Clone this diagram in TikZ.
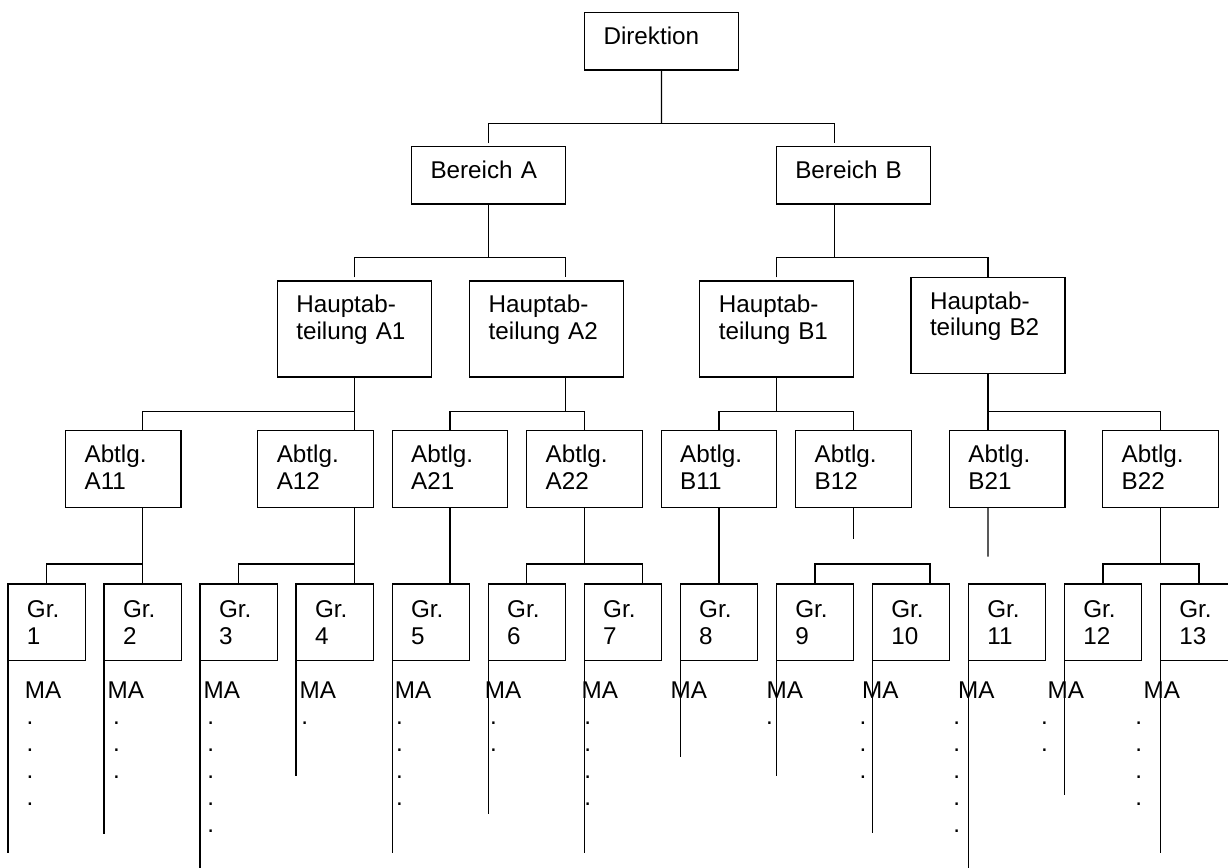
\documentclass[tikz,border=0pt]{standalone}
\usepackage{fontspec}
\setmainfont{Liberation Sans}
\usetikzlibrary{positioning}
\tikzset{
  orgbox/.style={draw, anchor=north west, outer sep=0pt, inner xsep=0.38cm, inner ysep=0pt,
                 align=left, text height=0.64cm, font=\fontsize{13.8pt}{15.2pt}\selectfont},
  topbox/.style={orgbox, text width=2.32cm, text depth=0.506cm},
  hauptbox/.style={orgbox, text width=2.32cm, text depth=1.28cm},
  abtbox/.style={orgbox, text width=1.55cm, text depth=0.892cm},
  grbox/.style={orgbox, text width=0.788cm, text height=0.67cm, text depth=0.864cm},
  staff/.style={anchor=base west, inner sep=0pt, font=\fontsize{13.8pt}{15.3pt}\selectfont},
  dotcol/.style={staff, align=left, text width=0.2cm},
  gap/.style={shorten <=0.07cm},
  gaps/.style={shorten <=0.07cm, shorten >=0.07cm},
}
\begin{document}
\begin{tikzpicture}[x=0.02cm, y=-0.02cm, line width=0.7pt]
  \useasboundingbox (0,0) rectangle (1228,868);

  \node[topbox] (dir) at (584.5,12.7) {Direktion};
  \node[topbox] (berA) at (411.5,146.7) {Bereich A};
  \node[topbox] (berB) at (776.3,146.7) {Bereich B};

  \node[hauptbox] (hA1) at (277.3,281) {Hauptab-\\teilung A1};
  \node[hauptbox] (hA2) at (469.7,281) {Hauptab-\\teilung A2};
  \node[hauptbox] (hB1) at (699.8,281) {Hauptab-\\teilung B1};
  \node[hauptbox] (hB2) at (911,277.3) {Hauptab-\\teilung B2};

  \node[abtbox] (aA11) at (65.6,430.7) {Abtlg.\\A11};
  \node[abtbox] (aA12) at (257.8,430.7) {Abtlg.\\A12};
  \node[abtbox] (aA21) at (392.2,430.7) {Abtlg.\\A21};
  \node[abtbox] (aA22) at (526.7,430.7) {Abtlg.\\A22};
  \node[abtbox] (aB11) at (661.2,430.7) {Abtlg.\\B11};
  \node[abtbox] (aB12) at (795.7,430.7) {Abtlg.\\B12};
  \node[abtbox] (aB21) at (949.4,430.7) {Abtlg.\\B21};
  \node[abtbox] (aB22) at (1102.7,430.7) {Abtlg.\\B22};

  % Gruppen, gleich breit nebeneinander
  \node[grbox] (gr1) at (8,584) {Gr.\\1};
  \node[grbox, right=0.373cm of gr1] (gr2) {Gr.\\2};
  \node[grbox, right=0.373cm of gr2] (gr3) {Gr.\\3};
  \node[grbox, right=0.373cm of gr3] (gr4) {Gr.\\4};
  \node[grbox, right=0.373cm of gr4] (gr5) {Gr.\\5};
  \node[grbox, right=0.373cm of gr5] (gr6) {Gr.\\6};
  \node[grbox, right=0.373cm of gr6] (gr7) {Gr.\\7};
  \node[grbox, right=0.373cm of gr7] (gr8) {Gr.\\8};
  \node[grbox, right=0.373cm of gr8] (gr9) {Gr.\\9};
  \node[grbox, right=0.373cm of gr9] (gr10) {Gr.\\10};
  \node[grbox, right=0.373cm of gr10] (gr11) {Gr.\\11};
  \node[grbox, right=0.373cm of gr11] (gr12) {Gr.\\12};
  \node[grbox, right=0.373cm of gr12] (gr13) {Gr.\\13};

  % Mitarbeiter
  \node[staff] (ma1) at (24.3,698.3) {MA};
  \node[staff] (ma2) at (107,698.3) {MA};
  \node[staff] (ma3) at (203,698.3) {MA};
  \node[staff] (ma4) at (299,698.3) {MA};
  \node[staff] (ma5) at (394.3,698.3) {MA};
  \node[staff] (ma6) at (484.3,698.3) {MA};
  \node[staff] (ma7) at (581,698.3) {MA};
  \node[staff] (ma8) at (670,698.3) {MA};
  \node[staff] (ma9) at (766,698.3) {MA};
  \node[staff] (ma10) at (861.6,698.3) {MA};
  \node[staff] (ma11) at (957.6,698.3) {MA};
  \node[staff] (ma12) at (1047,698.3) {MA};
  \node[staff] (ma13) at (1143,698.3) {MA};

  \node[dotcol] (dt1) at (26.1,724.7) {.\\.\\.\\.};
  \node[dotcol] (dt2) at (112.5,724.7) {.\\.\\.};
  \node[dotcol] (dt3) at (206.8,724.7) {.\\.\\.\\.\\.};
  \node[dotcol] (dt4) at (300.8,724.7) {.};
  \node[dotcol] (dt5) at (395.5,724.7) {.\\.\\.\\.};
  \node[dotcol] (dt6) at (489.5,724.7) {.\\.};
  \node[dotcol] (dt7) at (583.8,724.7) {.\\.\\.\\.};
  \node[dotcol] (dt9) at (765.5,724.7) {.};
  \node[dotcol] (dt10) at (859.1,724.7) {.\\.\\.};
  \node[dotcol] (dt11) at (952.8,724.7) {.\\.\\.\\.\\.};
  \node[dotcol] (dt12) at (1040.5,724.7) {.\\.};
  \node[dotcol] (dt13) at (1134.8,724.7) {.\\.\\.\\.};

  % Direktion -> Bereiche
  \coordinate (jD) at (661.5,123.3);
  \coordinate (jB) at (834.5,123.3);
  \draw (dir.south) -- (jD);
  \draw[gaps] (berA.north) -- (berA.north |- jD) -- (jB) -- (jB |- berB.north);

  % Bereiche -> Hauptabteilungen
  \coordinate (kA) at (565.3,257.3);
  \draw (berA.south) -- (berA.south |- kA);
  \draw[gaps] (hA1.north) -- (hA1.north |- kA) -- (kA) -- (kA |- hA2.north);
  \draw (jB |- berB.south) -- (jB |- kA);
  \draw[gap] (hB1.north) -- (hB1.north |- kA) -- (hB2.north |- kA) -- (hB2.north);

  % Hauptabteilungen -> Abteilungen
  \coordinate (kA1) at (142.75,411.7);
  \draw (hA1.south) -- (hA1.south |- aA12.north);
  \draw (aA11.north -| kA1) -- (kA1) -- (kA1 -| hA1.south);
  \draw (kA |- hA2.south) -- (kA |- kA1);
  \draw (aA21.north) -- (aA21.north |- kA1) -- (aA22.north |- kA1) -- (aA22.north);
  \draw (hB1.south) -- (hB1.south |- kA1);
  \draw (aB11.north) -- (aB11.north |- kA1) -- (aB12.north |- kA1) -- (aB12.north);
  \draw (hB2.south) -- (hB2.south |- aB21.north);
  \draw (hB2.south |- kA1) -- (aB22.north |- kA1) -- (aB22.north);

  % Abteilungen -> Gruppen
  \coordinate (kG) at (1228,564);
  \coordinate (kA22) at (642.3,564);
  \coordinate (kB12) at (930,564);
  \coordinate (stubB21) at (988,556.7);
  \draw (gr2.north |- aA11.south) -- (gr2.north);
  \draw (gr1.north) |- (gr2.north |- kG);
  \draw (hA1.south |- aA12.south) -- (hA1.south |- gr4.north);
  \draw (gr3.north) |- (hA1.south |- kG);
  \draw (aA21.south) -- (aA21.south |- gr5.north);
  \draw (aA22.south) -- (aA22.south |- kG);
  \draw (gr6.north) |- (kA22) -- (kA22 |- gr7.north);
  \draw (aB11.south) -- (aB11.south |- gr8.north);
  \draw (aB12.south) -- ([yshift=-0.64cm]aB12.south) coordinate (stubB12);
  \draw (gr9.north) |- (kB12) -- (kB12 |- gr10.north);
  \draw (hB2.south |- aB21.south) -- (stubB21);
  \draw (aB22.south) -- (aB22.south |- kG);
  \draw (gr12.north) |- (gr13.north |- kG) -- (gr13.north);

  % Linien der Mitarbeiter
  \draw (gr1.south west) -- ([yshift=-3.85cm]gr1.south west) coordinate (end1);
  \draw (gr2.south west) -- ([yshift=-3.47cm]gr2.south west) coordinate (end2);
  \draw (gr3.south west) -- ([yshift=-4.2cm]gr3.south west) coordinate (end3);
  \draw (gr4.south west) -- ([yshift=-2.31cm]gr4.south west) coordinate (end4);
  \draw (gr5.south west) -- ([yshift=-3.84cm]gr5.south west) coordinate (end5);
  \draw (gr6.south west) -- ([yshift=-3.07cm]gr6.south west) coordinate (end6);
  \draw (gr7.south west) -- ([yshift=-3.84cm]gr7.south west) coordinate (end7);
  \draw (gr8.south west) -- ([yshift=-1.92cm]gr8.south west) coordinate (end8);
  \draw (gr9.south west) -- ([yshift=-2.31cm]gr9.south west) coordinate (end9);
  \draw (gr10.south west) -- ([yshift=-3.45cm]gr10.south west) coordinate (end10);
  \draw (gr11.south west) -- ([yshift=-4.2cm]gr11.south west) coordinate (end11);
  \draw (gr12.south west) -- ([yshift=-2.69cm]gr12.south west) coordinate (end12);
  \draw (gr13.south west) -- ([yshift=-3.84cm]gr13.south west) coordinate (end13);
\end{tikzpicture}
\end{document}
